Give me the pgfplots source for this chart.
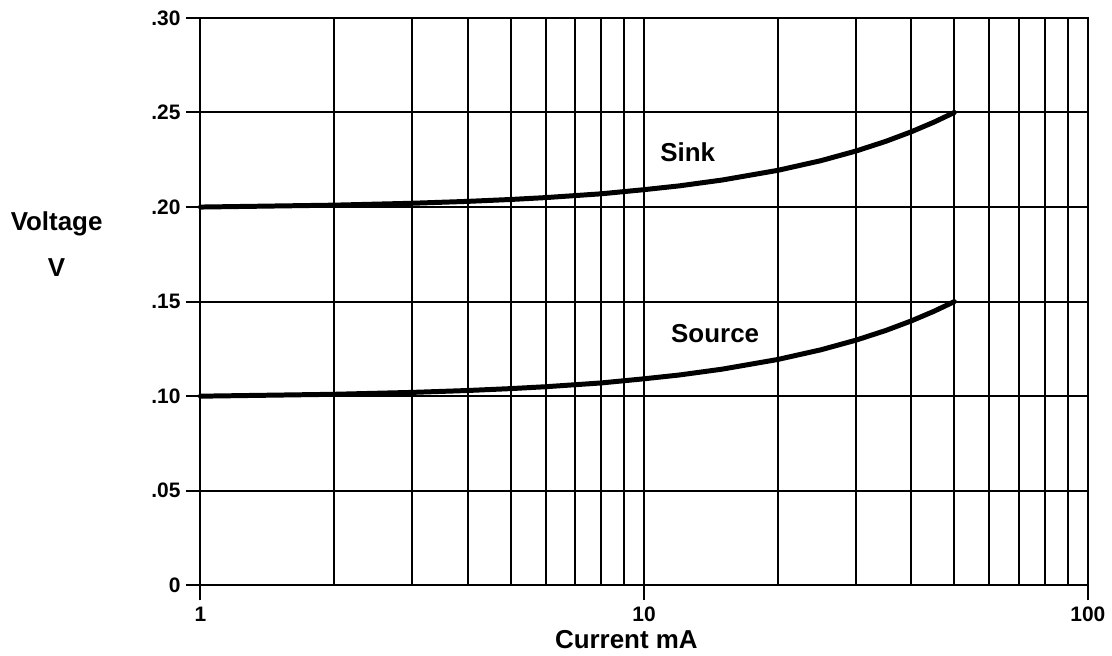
\documentclass[border=0pt]{standalone}
\usepackage{fontspec}
\setmainfont{Liberation Sans}
\usepackage{pgfplots}
\pgfplotsset{compat=1.18}

\begin{document}
\begin{tikzpicture}
\begin{axis}[
  xmode=log,
  scale only axis,
  width=445pt, height=284.5pt,
  xmin=1, xmax=100,
  ymin=0, ymax=0.30,
  clip=false,
  xtick={1,10,100},
  xticklabels={1,10,100},
  ytick={0,0.05,0.10,0.15,0.20,0.25,0.30},
  yticklabels={0,.05,.10,.15,.20,.25,.30},
  tick pos=left,
  tick align=outside,
  major tick length=7.5pt,
  minor tick length=0pt,
  grid=major,
  xminorgrids=true,
  major grid style={black, line width=1pt},
  minor grid style={black, line width=1pt},
  axis line style={black, line width=1pt},
  tick style={black, line width=1pt},
  /pgf/number format/assume math mode=true,
  tick label style={font=\bfseries\fontsize{10.5}{12}\selectfont},
  yticklabel style={xshift=1pt},
]
\addplot[black, line width=2.5pt, line cap=round, line join=round] coordinates {
  (1,0.2000) (2,0.2010) (3,0.2020) (4,0.2030) (5,0.2040) (6,0.2050)
  (8,0.2070) (10,0.2092) (12,0.2112) (15,0.2143) (20,0.2194) (25,0.2245)
  (30,0.2296) (35,0.2347) (40,0.2398) (45,0.2449) (50,0.2500)
};
\addplot[black, line width=2.5pt, line cap=round, line join=round] coordinates {
  (1,0.1000) (2,0.1010) (3,0.1020) (4,0.1030) (5,0.1040) (6,0.1050)
  (8,0.1070) (10,0.1092) (12,0.1112) (15,0.1143) (20,0.1194) (25,0.1245)
  (30,0.1296) (35,0.1347) (40,0.1398) (45,0.1449) (50,0.1500)
};
\node[font=\bfseries\fontsize{13}{15}\selectfont] at (rel axis cs:0.549,0.763) {Sink};
\node[font=\bfseries\fontsize{13}{15}\selectfont] at (rel axis cs:0.580,0.443) {Source};
\node[font=\bfseries\fontsize{13}{15}\selectfont] at (rel axis cs:0.48,-0.095) {Current mA};
\node[font=\bfseries\fontsize{13}{23}\selectfont, align=center] at (rel axis cs:-0.162,0.601) {Voltage\\V};
\path (rel axis cs:-0.2258,-0.1178) rectangle (rel axis cs:1.0236,1.0316);
\end{axis}
\end{tikzpicture}
\end{document}
